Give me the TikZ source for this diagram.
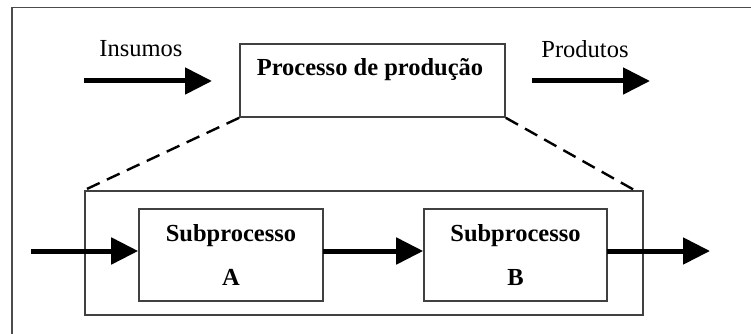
\documentclass[tikz,border=0pt]{standalone}
\usepackage{fontspec}
\setmainfont{Liberation Serif}
\usetikzlibrary{arrows.meta}
\begin{document}
\begin{tikzpicture}[x=1pt,y=-1pt,
  box/.style={draw=black!75,line width=1.6pt,rectangle,inner sep=0pt},
  lbl/.style={font=\fontsize{24.5}{28}\selectfont,inner sep=0pt},
  blbl/.style={font=\fontsize{24.5}{44}\selectfont\bfseries,inner sep=0pt,align=center},
  flow/.style={line width=5pt,-{Triangle[length=27pt,width=26pt]}},
  zoomline/.style={line width=2.4pt,dash pattern=on 14pt off 8pt}]
\useasboundingbox (0,0) rectangle (751,334);
% frame
\draw[black!70,line width=1.4pt] (12,334) -- (12,7.5) -- (751,7.5);
% top level
\node[box,minimum width=265pt,minimum height=73pt] (proc) at (372.5,80.5) {};
\node[blbl] (proct) at (370,70) {Processo de produção};
\node[lbl] (ins) at (141,49) {Insumos};
\node[lbl] (prod) at (585,49) {Produtos};
\coordinate (i0) at (84,81);
\coordinate (i1) at (212,81);
\coordinate (o0) at (532,81);
\coordinate (o1) at (650,81);
\draw[flow] (i0) -- (i1);
\draw[flow] (o0) -- (o1);
% detail
\node[box,minimum width=558pt,minimum height=124pt] (outer) at (364,253) {};
\node[box,blbl,minimum width=184pt,minimum height=92pt] (A) at (231,255) {Subprocesso\\A};
\node[box,blbl,minimum width=183pt,minimum height=92pt] (B) at (515.5,255) {Subprocesso\\B};
\coordinate (e0) at (31,251);
\coordinate (m0) at (323,251);
\coordinate (x0) at (607,251);
\coordinate (x1) at (710,251);
\coordinate (dr) at (636,191);
\draw[flow] (e0) -- (e0 -| A.west);
\draw[flow] (m0) -- (m0 -| B.west);
\draw[flow] (x0) -- (x1);
\draw[zoomline] (proc.south west) -- (outer.north west);
\draw[zoomline] (proc.south east) -- (dr);
\end{tikzpicture}
\end{document}
